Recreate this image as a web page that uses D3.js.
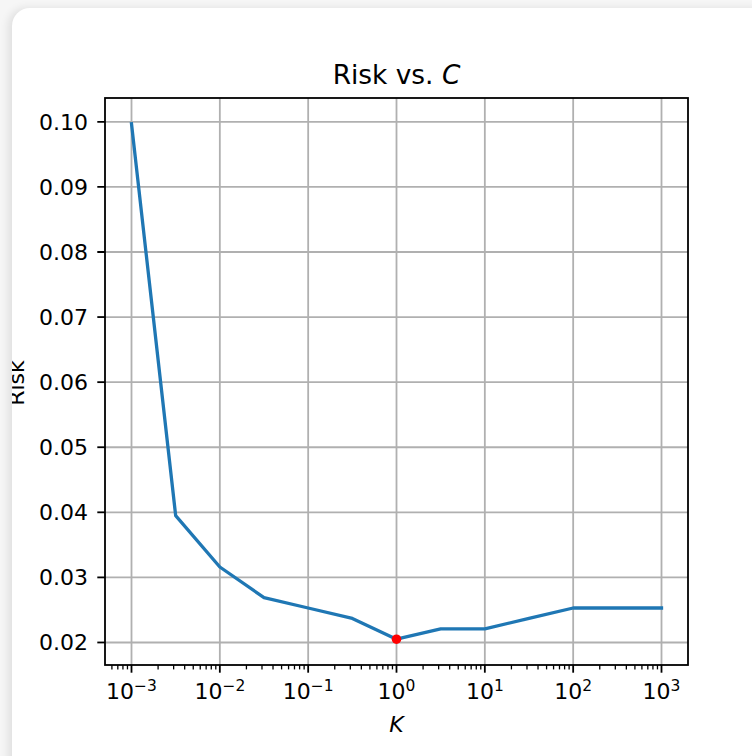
<!DOCTYPE html>
<html>
<head>
<meta charset="utf-8">
<script src="https://cdn.jsdelivr.net/npm/d3@7"></script>
<style>
  html, body { margin: 0; padding: 0; background: #f6f6f6; }
  body { width: 752px; height: 756px; overflow: hidden; position: relative; }
  #card {
    position: absolute; left: 12px; top: 8px; width: 760px; height: 780px;
    background: #fff; border-radius: 18px; overflow: hidden;
    box-shadow: -4px 0 8px rgba(0,0,0,0.09);
  }
  #chart { position: absolute; left: -12px; top: -8px; }
  text { font-family: "DejaVu Sans", sans-serif; fill: #000; }
</style>
</head>
<body>
<div id="card"><div id="chart"></div></div>
<script>
var svgWidth = 752;
var svgHeight = 756;

var margin = { top: 98, right: 64, bottom: 91, left: 105 };
var width = svgWidth - margin.left - margin.right;
var height = svgHeight - margin.top - margin.bottom;

// regularisation values and the risk
var cValues = [1e-3, 10 ** -2.5, 1e-2, 10 ** -1.5, 1e-1, 10 ** -0.5, 1, 10 ** 0.5, 10, 10 ** 1.5, 100, 10 ** 2.5, 1000];
var riskValues = [0.0997, 0.0395, 0.0316, 0.0269, 0.0253, 0.0237, 0.0205, 0.0221, 0.0221, 0.0237, 0.0253, 0.0253, 0.0253];
var xTickExps = [-3, -2, -1, 0, 1, 2, 3];
var yTicks = [0.02, 0.03, 0.04, 0.05, 0.06, 0.07, 0.08, 0.09, 0.10];

var data = cValues.map((c, i) => ({ c: c, risk: riskValues[i] }));
var best = data.reduce((a, b) => (b.risk < a.risk ? b : a));

var svg = d3.select("#chart")
  .append("svg")
  .attr("width", svgWidth)
  .attr("height", svgHeight);

var chartGroup = svg.append("g")
  .attr("transform", `translate(${margin.left}, ${margin.top})`);

// matplotlib style 5% margins (log space on x)
var lx = d3.extent(cValues, d => Math.log10(d));
var padX = (lx[1] - lx[0]) * 0.05;
var xScale = d3.scaleLog()
  .domain([10 ** (lx[0] - padX), 10 ** (lx[1] + padX)])
  .range([0, width]);

var ry = d3.extent(riskValues);
var padY = (ry[1] - ry[0]) * 0.05;
var yScale = d3.scaleLinear()
  .domain([ry[0] - padY, ry[1] + padY])
  .range([height, 0]);

// grid
chartGroup.append("g").selectAll("line")
  .data(xTickExps)
  .enter().append("line")
  .attr("x1", d => xScale(10 ** d)).attr("x2", d => xScale(10 ** d))
  .attr("y1", 0).attr("y2", height)
  .attr("stroke", "#b0b0b0").attr("stroke-width", 1.8);

chartGroup.append("g").selectAll("line")
  .data(yTicks)
  .enter().append("line")
  .attr("x1", 0).attr("x2", width)
  .attr("y1", d => yScale(d)).attr("y2", d => yScale(d))
  .attr("stroke", "#b0b0b0").attr("stroke-width", 1.8);

// line
var line = d3.line()
  .x(d => xScale(d.c))
  .y(d => yScale(d.risk));

chartGroup.append("path")
  .datum(data)
  .attr("d", line)
  .attr("fill", "none")
  .attr("stroke", "#1f77b4")
  .attr("stroke-width", 3.3)
  .attr("stroke-linejoin", "round")
  .attr("stroke-linecap", "square");

chartGroup.append("circle")
  .attr("cx", xScale(best.c))
  .attr("cy", yScale(best.risk))
  .attr("r", 4.8)
  .attr("fill", "#ff0000");

// frame
chartGroup.append("rect")
  .attr("width", width).attr("height", height)
  .attr("fill", "none").attr("stroke", "#000").attr("stroke-width", 1.8);

// x axis
var xMinor = [];
for (var e = -4; e <= 3; e++) {
  for (var m = 2; m <= 9; m++) {
    var v = m * 10 ** e;
    if (v >= xScale.domain()[0] && v <= xScale.domain()[1]) xMinor.push(v);
  }
}
var xAxis = chartGroup.append("g").attr("transform", `translate(0, ${height})`);
xAxis.selectAll(".minor")
  .data(xMinor)
  .enter().append("line")
  .attr("x1", d => xScale(d)).attr("x2", d => xScale(d))
  .attr("y1", 0).attr("y2", 4.4)
  .attr("stroke", "#000").attr("stroke-width", 1.3);
xAxis.selectAll(".major")
  .data(xTickExps)
  .enter().append("line")
  .attr("x1", d => xScale(10 ** d)).attr("x2", d => xScale(10 ** d))
  .attr("y1", 0).attr("y2", 7.7)
  .attr("stroke", "#000").attr("stroke-width", 1.8);

var xLabels = xAxis.selectAll(".xl")
  .data(xTickExps)
  .enter().append("text")
  .attr("x", d => xScale(10 ** d))
  .attr("y", 34)
  .attr("text-anchor", "middle")
  .style("font-size", "22px");
xLabels.append("tspan").text("10");
xLabels.append("tspan")
  .attr("dy", -8)
  .style("font-size", "15.5px")
  .text(d => (d < 0 ? "\u2212" + (-d) : "" + d));

// y axis
var yAxis = chartGroup.append("g");
yAxis.selectAll("line")
  .data(yTicks)
  .enter().append("line")
  .attr("x1", -7.7).attr("x2", 0)
  .attr("y1", d => yScale(d)).attr("y2", d => yScale(d))
  .attr("stroke", "#000").attr("stroke-width", 1.8);
yAxis.selectAll("text")
  .data(yTicks)
  .enter().append("text")
  .attr("x", -17)
  .attr("y", d => yScale(d))
  .attr("dy", "0.36em")
  .attr("text-anchor", "end")
  .style("font-size", "22px")
  .text(d => d3.format(".2f")(d));

// labels
svg.append("text")
  .attr("x", margin.left + width / 2)
  .attr("y", 84)
  .attr("text-anchor", "middle")
  .style("font-size", "26.4px")
  .html('Risk vs. <tspan font-style="italic">C</tspan>');

svg.append("text")
  .attr("x", margin.left + width / 2)
  .attr("y", 732)
  .attr("text-anchor", "middle")
  .style("font-size", "22px")
  .style("font-style", "italic")
  .text("K");

// y label sits partly under the card edge, as in the original
svg.append("text")
  .attr("transform", "translate(24, 383) rotate(-90)")
  .attr("text-anchor", "middle")
  .style("font-size", "22px")
  .text("Risk");
</script>
</body>
</html>
